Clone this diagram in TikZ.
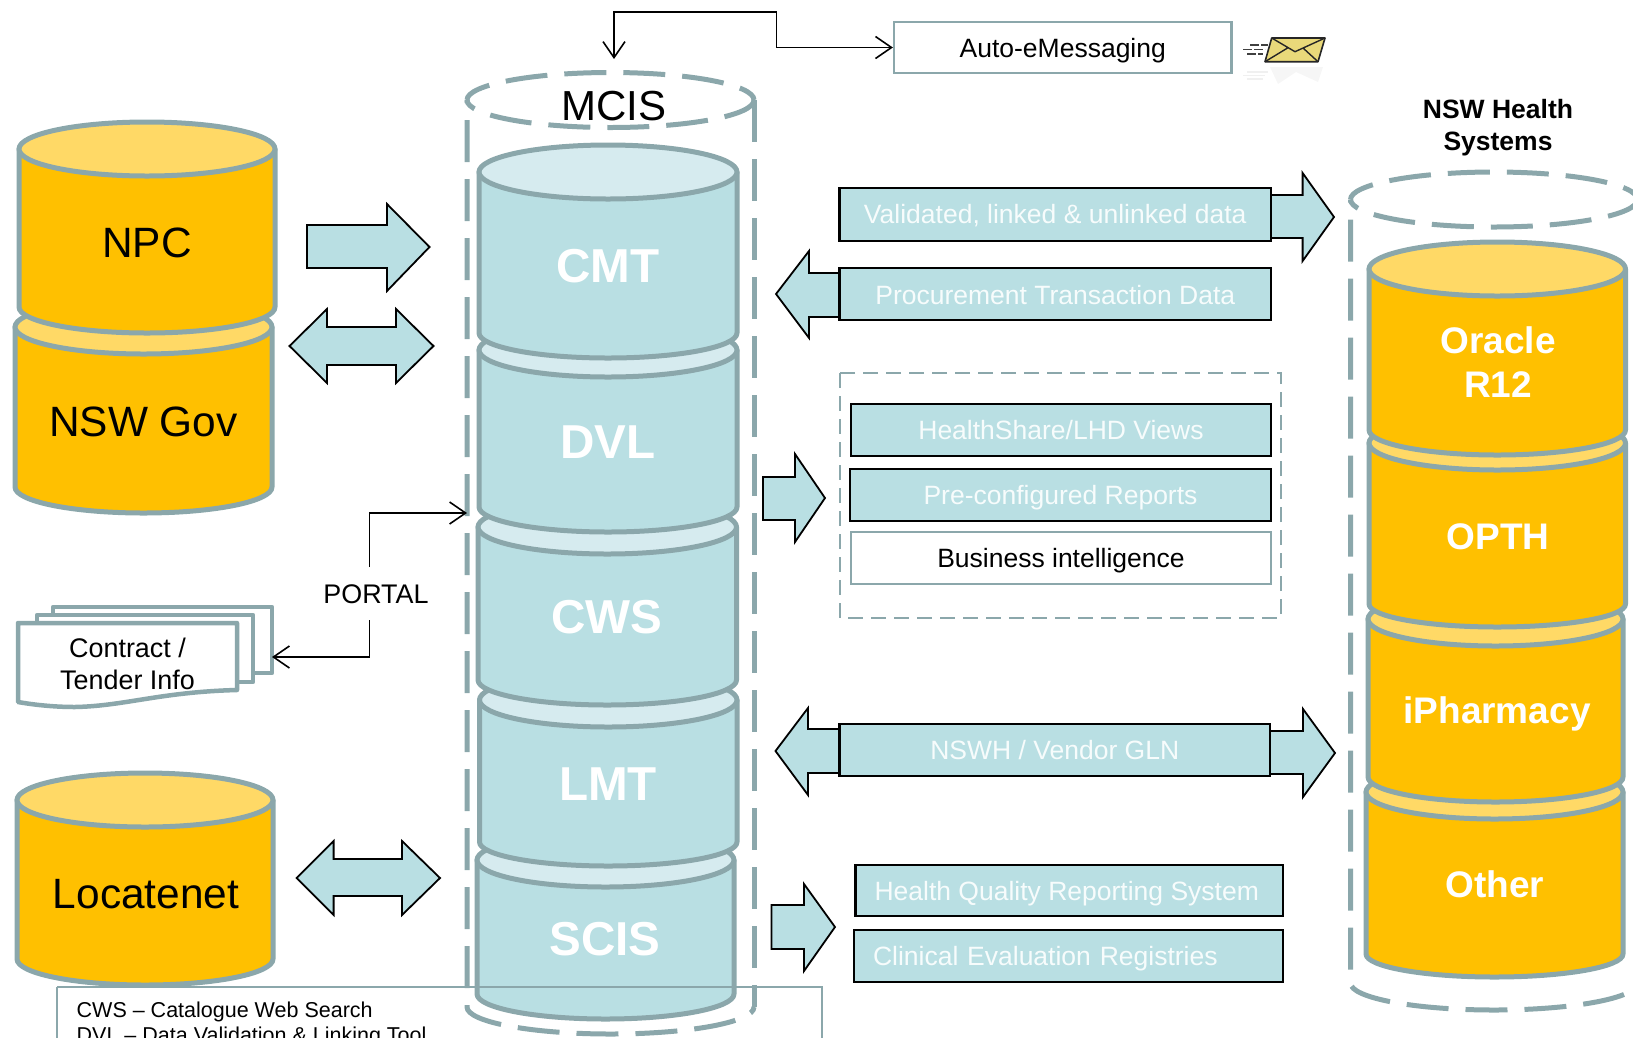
\documentclass[tikz,border=0pt]{standalone}
\usepackage{fontspec}
\setmainfont{Liberation Sans}
\usetikzlibrary{arrows.meta}
\definecolor{cylline}{HTML}{8BA7AB}
\definecolor{orangeBody}{HTML}{FFC000}
\definecolor{orangeTop}{HTML}{FFD966}
\definecolor{blueBody}{HTML}{B9DFE3}
\definecolor{blueTop}{HTML}{D6EBEF}
\definecolor{paleWhite}{HTML}{F7FCFC}
\definecolor{envelopeFill}{HTML}{E9D97A}
\tikzset{
  cylstroke/.style={draw=cylline,line width=5pt,line join=round},
  dashring/.style={draw=cylline,line width=5pt,dash pattern=on 42pt off 17pt},
  blockarrow/.style={draw=black,fill=blueBody,line width=1.8pt,miter limit=10},
  databox/.style={draw=black,fill=blueBody,line width=2.2pt,inner sep=0pt,text=paleWhite,text height=19pt,text depth=0pt,font=\fontsize{26.5}{30}\selectfont},
  plainbox/.style={draw=cylline,fill=white,line width=2.2pt,inner sep=0pt,text=black,text height=19pt,text depth=0pt,font=\fontsize{26.5}{30}\selectfont},
  link/.style={draw=black,line width=1.6pt,arrows={-Straight Barb[length=16pt,width=22pt,line width=1.6pt]}},
  biglabel/.style={text=black,font=\fontsize{42.4}{46}\selectfont,inner sep=0pt},
  blueLabel/.style={text=white,font=\bfseries\fontsize{47.6}{50}\selectfont,inner sep=0pt},
  oraLabel/.style={text=white,font=\bfseries\fontsize{37}{44.5}\selectfont,inner sep=0pt,align=center},
  smalllabel/.style={text=black,font=\fontsize{26.9}{32}\selectfont,inner sep=0pt,align=center},
  docsheet/.style={draw=cylline,fill=white,line width=4.5pt,line join=round}
}
% left, right, ellipse centre y, side end y, bottom y, body fill, top fill
\newcommand{\dbcyl}[7]{%
  \pgfmathsetmacro\cylcx{(#1+#2)/2}%
  \pgfmathsetmacro\cylrx{(#2-#1)/2}%
  \pgfmathsetmacro\cylkx{0.5523*\cylrx}%
  \pgfmathsetmacro\cylky{0.5523*(#5-#4)}%
  \path[cylstroke,fill=#6] (#1,#3) -- (#1,#4)
    .. controls (#1,#4+\cylky) and (\cylcx-\cylkx,#5) .. (\cylcx,#5)
    .. controls (\cylcx+\cylkx,#5) and (#2,#4+\cylky) .. (#2,#4) -- (#2,#3) -- cycle;
  \path[cylstroke,fill=#7] (\cylcx,#3) ellipse [x radius=\cylrx, y radius=27];
}
% dashed outer container: left, right, centre y, side end y, bottom y
\newcommand{\dashcyl}[5]{%
  \pgfmathsetmacro\cylcx{(#1+#2)/2}%
  \pgfmathsetmacro\cylrx{(#2-#1)/2}%
  \pgfmathsetmacro\cylkx{0.5523*\cylrx}%
  \pgfmathsetmacro\cylky{0.5523*(#5-#4)}%
  \pgfmathsetmacro\cylkt{0.5523*27.5}%
  \draw[dashring,dash phase=14pt] (#1,#3)
    .. controls (#1,#3-\cylkt) and (\cylcx-\cylkx,#3-27.5) .. (\cylcx,#3-27.5)
    .. controls (\cylcx+\cylkx,#3-27.5) and (#2,#3-\cylkt) .. (#2,#3);
  \draw[dashring,dash phase=30pt] (#1,#3)
    .. controls (#1,#3+\cylkt) and (\cylcx-\cylkx,#3+27.5) .. (\cylcx,#3+27.5)
    .. controls (\cylcx+\cylkx,#3+27.5) and (#2,#3+\cylkt) .. (#2,#3);
  \draw[dashring,dash phase=39pt] (#1,#3) -- (#1,#4)
    .. controls (#1,#4+\cylky) and (\cylcx-\cylkx,#5) .. (\cylcx,#5)
    .. controls (\cylcx+\cylkx,#5) and (#2,#4+\cylky) .. (#2,#4);
  \draw[dashring] (#2,#3) -- (#2,#4);
}
\begin{document}
\begin{tikzpicture}[x=1pt,y=-1pt]
\useasboundingbox (0,0) rectangle (1633,1037);
\clip (0,0) rectangle (1633,1037);

% left stack
\dbcyl{15}{272}{327}{487}{513}{orangeBody}{orangeTop}
\dbcyl{19}{275}{149}{307}{333}{orangeBody}{orangeTop}
\node[biglabel] (npc) at (147,242.5) {NPC};
\node[biglabel] (nswgov) at (143.5,421.5) {NSW Gov};
\dbcyl{17}{273}{800}{959}{985}{orangeBody}{orangeTop}
\node[biglabel] (locatenet) at (146,894) {Locatenet};

% MCIS container and stack
\dashcyl{467}{754}{100}{1007}{1034}
\node[biglabel,font=\fontsize{42}{46}\selectfont] (mcis) at (614,106) {MCIS};
\dbcyl{477}{734}{860}{994}{1019}{blueBody}{blueTop}
\dbcyl{479.5}{737}{700}{842}{866}{blueBody}{blueTop}
\dbcyl{478}{736.5}{527}{680}{705}{blueBody}{blueTop}
\dbcyl{479}{737}{350}{507}{532}{blueBody}{blueTop}
\dbcyl{479}{737}{172}{333}{358}{blueBody}{blueTop}
\node[blueLabel] (cmt) at (608,266) {CMT};
\node[blueLabel] (dvl) at (608,442) {DVL};
\node[blueLabel] (cws) at (607,617) {CWS};
\node[blueLabel] (lmt) at (608,784) {LMT};
\node[blueLabel] (scis) at (605,939) {SCIS};

% right container and stack
\dashcyl{1350.5}{1637.5}{199.5}{983}{1010}
\dbcyl{1366}{1623}{792}{954}{977}{orangeBody}{orangeTop}
\dbcyl{1368}{1623}{619}{777}{802}{orangeBody}{orangeTop}
\dbcyl{1369}{1625.5}{443}{604}{627}{orangeBody}{orangeTop}
\dbcyl{1369}{1625.5}{269}{430}{455}{orangeBody}{orangeTop}
\node[oraLabel] (oracle) at (1498,362) {Oracle\\R12};
\node[oraLabel] (opth) at (1498,537) {OPTH};
\node[oraLabel] (ipharm) at (1497,714) {iPharmacy};
\node[oraLabel] (other) at (1495,884) {Other};
\node[text=black,font=\bfseries\fontsize{26.5}{32}\selectfont,inner sep=0pt,align=center] (nswh) at (1498,127.5) {NSW Health\\Systems};

% block arrows, left side
\draw[blockarrow] (307,225) -- (387,225) -- (387,204) -- (429.5,247) -- (387,291) -- (387,268) -- (307,268) -- cycle;
\draw[blockarrow] (289.5,346) -- (327,309) -- (327,327) -- (396,327) -- (396,309) -- (433.5,346) -- (396,383) -- (396,365) -- (327,365) -- (327,383) -- cycle;
\draw[blockarrow] (296.6,878) -- (333.6,841) -- (333.6,859) -- (402,859) -- (402,841) -- (440,878) -- (402,915) -- (402,896) -- (333.6,896) -- (333.6,915) -- cycle;

% block arrows, centre
\draw[blockarrow] (1260,195) -- (1302.6,195) -- (1302.6,173) -- (1334,217) -- (1302.6,261) -- (1302.6,238) -- (1260,238) -- cycle;
\draw[blockarrow] (850,273) -- (809,273) -- (809,251) -- (776,294) -- (809,338) -- (809,317) -- (850,317) -- cycle;
\draw[blockarrow] (763,477) -- (795,477) -- (795,454) -- (825,498) -- (795,542) -- (795,520) -- (763,520) -- cycle;
\draw[blockarrow] (850,729) -- (808,729) -- (808,708) -- (775.5,751) -- (808,795) -- (808,773) -- (850,773) -- cycle;
\draw[blockarrow] (1260,731) -- (1303,731) -- (1303,709) -- (1335,753) -- (1303,797) -- (1303,774) -- (1260,774) -- cycle;
\draw[blockarrow] (771.5,905) -- (804,905) -- (804,884) -- (835,927) -- (804,971) -- (804,949) -- (771.5,949) -- cycle;

% data boxes
\node[databox,text height=17pt,minimum width=431.5pt,minimum height=53pt] (validated) at (1055.25,214.5) {Validated, linked \& unlinked data};
\node[databox,text height=20pt,minimum width=431.5pt,minimum height=52pt] (procure) at (1055.25,294) {Procurement Transaction Data};
\draw[draw=cylline,line width=1.5pt,dash pattern=on 15pt off 8pt] (840,373) rectangle (1281,618);
\node[databox,minimum width=420pt,minimum height=52pt] (views) at (1061,430) {HealthShare/LHD Views};
\node[databox,minimum width=421pt,minimum height=52pt] (reports) at (1060.5,495) {Pre-configured Reports};
\node[plainbox,minimum width=420pt,minimum height=52pt] (bi) at (1061,558) {Business intelligence};
\node[databox,minimum width=430.5pt,minimum height=52pt] (gln) at (1054.75,750) {NSWH / Vendor GLN};
\node[databox,minimum width=427.5pt,minimum height=51pt] (hqrs) at (1069.25,890.5) {\hspace*{-5pt}Health Quality Reporting System};
\node[databox,minimum height=52pt,text width=391pt,inner xsep=19pt,align=left] (ceval) at (1068.5,956) {Clinical Evaluation Registries};

% auto messaging
\node[plainbox,minimum width=337.5pt,minimum height=51pt] (auto) at (1062.75,47.5) {Auto-eMessaging};
\coordinate (mcisin) at (614,59);
\draw[link,arrows={Straight Barb[length=16pt,width=22pt,line width=1.6pt]-Straight Barb[length=16pt,width=22pt,line width=1.6pt]}] (mcisin) -- (614,12) -- (776.5,12) -- (776.5,47.5) -- (auto.west);

% envelope
\fill[gray!7] (1270,67) -- (1323,67) -- (1318,82) -- (1296,72) -- (1278,84) -- cycle;
\draw[gray!12,line width=1.5pt] (1247,72) -- (1268,72) (1243,75.5) -- (1265,75.5) (1247,79) -- (1263,79);
\draw[black!75,line width=1.4pt,dash pattern=on 9pt off 2pt] (1250,45) -- (1268,45) (1243,49.3) -- (1265,49.3) (1247,54) -- (1263,54);
\draw[black!85,fill=envelopeFill,line width=1.6pt,line join=round] (1271.7,38) -- (1325,38) -- (1318,61.7) -- (1265,61.7) -- cycle;
\draw[black!85,line width=1.4pt] (1271.7,38) -- (1295,51.7) -- (1325,38) (1265,61.7) -- (1288,47.7) (1318,61.7) -- (1303,48);

% portal and document stack
\draw[docsheet] (53,607) -- (272,607) -- (272,673) -- (53,673) -- cycle;
\draw[docsheet] (37,615) -- (253,615) -- (253,682) -- (37,682) -- cycle;
\draw[docsheet] (18,623) -- (237,623) -- (237,690) .. controls (160,692) and (125,706) .. (75,707) .. controls (55,707) and (35,705) .. (18,702) -- cycle;
\node[smalllabel] (contract) at (127.5,664) {Contract /\\Tender Info};
\node[smalllabel] (portal) at (376,594) {PORTAL};
\coordinate (portalup) at (369.5,567);
\coordinate (portaldown) at (369.5,620);
\coordinate (mcisside) at (467,513);
\coordinate (docside) at (272,657);
\draw[link] (portalup) |- (mcisside);
\draw[link] (portaldown) |- (docside);

% legend
\draw[draw=cylline,line width=1.6pt] (57,987) -- (822,987) -- (822,1060) (57,1060) -- (57,987);
\node[anchor=north west,align=left,inner sep=0pt,text=black,font=\fontsize{21.5}{25}\selectfont] (legend) at (76.5,1002) {CWS – Catalogue Web Search\\DVL – Data Validation \& Linking Tool};
\end{tikzpicture}
\end{document}
